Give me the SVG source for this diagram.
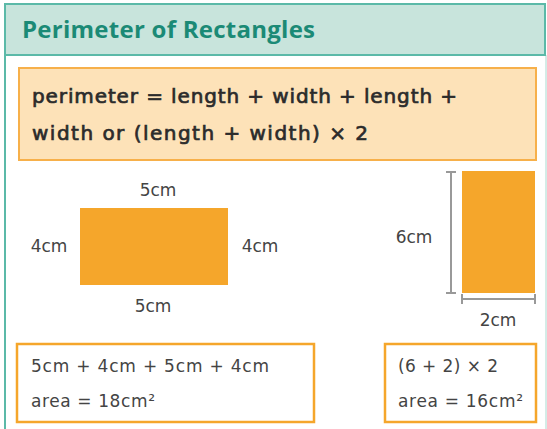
<svg xmlns="http://www.w3.org/2000/svg" width="547" height="429" viewBox="0 0 547 429">
<style>
.frame{fill:none;stroke:#5bb9a8;stroke-width:2}
.title{font-family:"Open Sans",sans-serif;font-weight:700;font-size:24px;fill:#1b8a76}
.formula{font-family:"DejaVu Sans",sans-serif;font-weight:400;font-size:20px;fill:#2b2b2b;stroke:#2b2b2b;stroke-width:0.7}
.lbl{font-family:"DejaVu Sans",sans-serif;font-size:17px;fill:#444}
.calc{font-family:"DejaVu Sans",sans-serif;font-size:17px;fill:#444}
.shape{fill:#f5a62b}
.box{fill:#fff;stroke:#f5a62b;stroke-width:2.5}
.dim{stroke:#999;stroke-width:2;fill:none}
</style>
<rect width="547" height="429" fill="#fff"/>
<g id="frame">
<line x1="5" y1="4" x2="5" y2="429" class="frame"/>
<line x1="546" y1="55" x2="546" y2="429" stroke="#c6e6df" stroke-width="1.5"/>
</g>
<g id="header">
<rect x="5" y="4" width="540" height="51" fill="#c8e4dc" stroke="#5bb9a8" stroke-width="2"/>
<text x="22" y="38" class="title" textLength="293">Perimeter of Rectangles</text>
</g>
<g id="formula">
<rect x="19" y="68" width="517" height="92" fill="#fde2b8" stroke="#f7b04a" stroke-width="2"/>
<text x="32" y="103" class="formula" textLength="425">perimeter = length + width + length +</text>
<text x="32" y="140" class="formula" textLength="336">width or (length + width) × 2</text>
</g>
<g id="rect1">
<rect x="80" y="208" width="148" height="77" class="shape"/>
<text x="158" y="196" class="lbl" text-anchor="middle">5cm</text>
<text x="153" y="312" class="lbl" text-anchor="middle">5cm</text>
<text x="49" y="252" class="lbl" text-anchor="middle">4cm</text>
<text x="260" y="252" class="lbl" text-anchor="middle">4cm</text>
</g>
<g id="rect2">
<rect x="462" y="171" width="73" height="122" class="shape"/>
<text x="414" y="243" class="lbl" text-anchor="middle">6cm</text>
<text x="498" y="326" class="lbl" text-anchor="middle">2cm</text>
</g>
<g id="connectors">
<line x1="451" y1="172" x2="451" y2="293" class="dim"/>
<line x1="446" y1="172" x2="456" y2="172" class="dim"/>
<line x1="446" y1="293" x2="456" y2="293" class="dim"/>
<line x1="462" y1="299" x2="535" y2="299" class="dim"/>
<line x1="462" y1="294" x2="462" y2="304" class="dim"/>
<line x1="535" y1="294" x2="535" y2="304" class="dim"/>
</g>
<g id="calc1">
<rect x="17" y="344" width="297" height="78" class="box"/>
<text x="31" y="372" class="calc" textLength="238">5cm + 4cm + 5cm + 4cm</text>
<text x="31" y="407" class="calc" textLength="124">area = 18cm²</text>
</g>
<g id="calc2">
<rect x="385" y="344" width="151" height="78" class="box"/>
<text x="398" y="372" class="calc" textLength="100">(6 + 2) × 2</text>
<text x="398" y="407" class="calc" textLength="125">area = 16cm²</text>
</g>
</svg>
